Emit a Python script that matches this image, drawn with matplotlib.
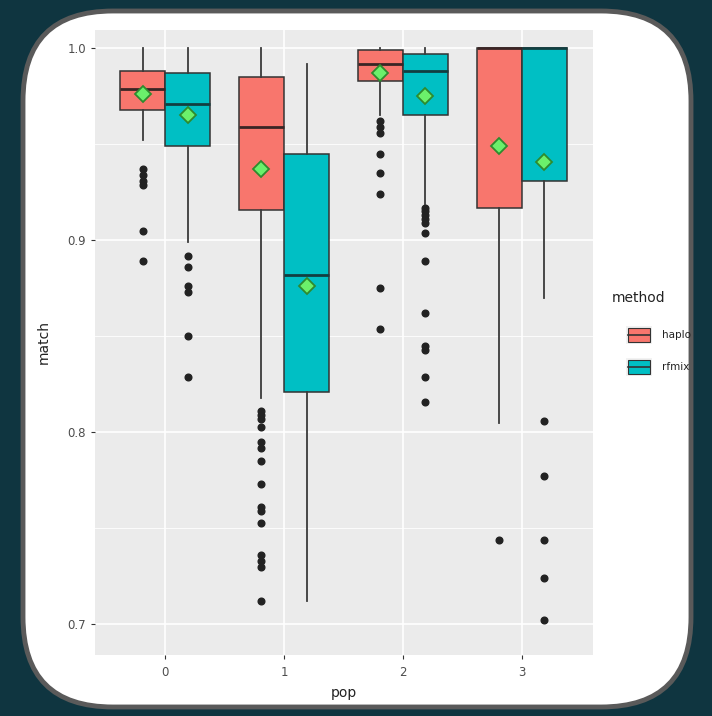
import matplotlib
matplotlib.use("Agg")
import matplotlib.pyplot as plt
from matplotlib.patches import FancyBboxPatch, Rectangle

# ---------------- data ----------------
pops = [0, 1, 2, 3]
methods = ["haplo", "rfmix"]
colors = {"haplo": "#F8766D", "rfmix": "#00BFC4"}

# per pop: [q1, median, q3, whislo, whishi, mean]
haplo_q1 = [0.968, 0.916, 0.983, 0.917]
haplo_med = [0.979, 0.959, 0.992, 1.000]
haplo_q3 = [0.988, 0.985, 0.999, 1.000]
haplo_lo = [0.952, 0.818, 0.965, 0.805]
haplo_hi = [1.000, 1.000, 1.000, 1.000]
haplo_mean = [0.976, 0.937, 0.987, 0.949]
haplo_out = [
    [0.937, 0.934, 0.931, 0.929, 0.905, 0.889],
    [0.811, 0.809, 0.807, 0.803, 0.795, 0.792, 0.785, 0.773, 0.761, 0.759,
     0.753, 0.736, 0.733, 0.730, 0.712],
    [0.962, 0.959, 0.956, 0.945, 0.935, 0.924, 0.875, 0.854],
    [0.744],
]

rfmix_q1 = [0.949, 0.821, 0.965, 0.931]
rfmix_med = [0.971, 0.882, 0.988, 1.000]
rfmix_q3 = [0.987, 0.945, 0.997, 1.000]
rfmix_lo = [0.899, 0.712, 0.919, 0.870]
rfmix_hi = [1.000, 0.992, 1.000, 1.000]
rfmix_mean = [0.965, 0.876, 0.975, 0.941]
rfmix_out = [
    [0.892, 0.886, 0.876, 0.873, 0.850, 0.829],
    [],
    [0.917, 0.915, 0.913, 0.911, 0.909, 0.904, 0.889, 0.862, 0.845, 0.843,
     0.829, 0.816],
    [0.806, 0.777, 0.744, 0.724, 0.702],
]

ytick_vals = [0.7, 0.8, 0.9, 1.0]
ytick_labels = ["0.7", "0.8", "0.9", "1.0"]
xtick_labels = ["0", "1", "2", "3"]

series = {
    "haplo": (haplo_q1, haplo_med, haplo_q3, haplo_lo, haplo_hi, haplo_mean, haplo_out),
    "rfmix": (rfmix_q1, rfmix_med, rfmix_q3, rfmix_lo, rfmix_hi, rfmix_mean, rfmix_out),
}

# ---------------- figure ----------------
W, H = 712, 716
fig = plt.figure(figsize=(W / 100, H / 100), dpi=100)
fig.patch.set_facecolor("#0F3540")

# background card
bg = fig.add_axes([0, 0, 1, 1], zorder=0)
bg.set_xlim(0, W)
bg.set_ylim(H, 0)
bg.axis("off")
card = FancyBboxPatch((23, 11), 668, 696,
                      boxstyle="round,pad=0,rounding_size=90",
                      facecolor="white", edgecolor="#5A5A5A", linewidth=3.5)
bg.add_patch(card)

# main panel
left, right, top, bottom = 95, 593, 30, 655
ax = fig.add_axes([left / W, 1 - bottom / H, (right - left) / W, (bottom - top) / H], zorder=1)
ax.set_facecolor("#EBEBEB")
for s in ax.spines.values():
    s.set_visible(False)

ax.set_xlim(-0.59, 3.6)
ax.set_ylim(0.684, 1.0095)

# grid
for y in [0.75, 0.85, 0.95]:
    ax.axhline(y, color="white", linewidth=0.6, zorder=0)
for y in ytick_vals:
    ax.axhline(y, color="white", linewidth=1.2, zorder=0)
for x in pops:
    ax.axvline(x, color="white", linewidth=1.2, zorder=0)

bw = 0.38
offs = {"haplo": -0.19, "rfmix": 0.19}
for m in methods:
    q1, med, q3, lo, hi, mean, out = series[m]
    stats = []
    for i in range(len(pops)):
        stats.append(dict(q1=q1[i], med=med[i], q3=q3[i], whislo=lo[i], whishi=hi[i],
                          mean=mean[i], fliers=out[i]))
    pos = [p + offs[m] for p in pops]
    ax.bxp(stats, positions=pos, widths=bw, patch_artist=True, showcaps=False,
           showmeans=True, manage_ticks=False,
           boxprops=dict(facecolor=colors[m], edgecolor="#333333", linewidth=1.1),
           medianprops=dict(color="#3A2525" if m == "haplo" else "#123E40", linewidth=2.0),
           whiskerprops=dict(color="#3A3A3A", linewidth=1.3),
           flierprops=dict(marker="o", markersize=4.8, markerfacecolor="#222222",
                           markeredgecolor="#222222"),
           meanprops=dict(marker="D", markersize=8, markerfacecolor="#6BF06B",
                          markeredgecolor="#2E8B2E", markeredgewidth=1.3),
           zorder=2)

ax.set_yticks(ytick_vals)
ax.set_yticklabels(ytick_labels)
ax.set_xticks(pops)
ax.set_xticklabels(xtick_labels)
ax.tick_params(axis="both", colors="#333333", labelcolor="#4D4D4D", labelsize=8.5,
               length=3, width=0.8)
ax.tick_params(axis="x", pad=5)
ax.set_xlabel("pop", fontsize=10, color="#222222", labelpad=5)
ax.set_ylabel("match", fontsize=10, color="#222222", labelpad=12)

# legend (drawn in pixel coords)
bg2 = fig.add_axes([0, 0, 1, 1], zorder=3)
bg2.set_xlim(0, W)
bg2.set_ylim(H, 0)
bg2.axis("off")
bg2.text(612, 298, "method", fontsize=10, color="#222222", va="center", ha="left")
for j, m in enumerate(methods):
    y0 = 326 + j * 32
    bg2.add_patch(Rectangle((626, y0), 26, 18, facecolor="#F2F2F2", edgecolor="none"))
    bg2.add_patch(Rectangle((628, y0 + 2), 22, 14, facecolor=colors[m],
                            edgecolor="#333333", linewidth=0.8))
    bg2.plot([628, 650], [y0 + 9, y0 + 9], color="#333333", linewidth=1.2)
    bg2.text(662, y0 + 9, m, fontsize=7.5, color="#222222", va="center", ha="left")

fig.savefig("out.png", dpi=100, facecolor=fig.get_facecolor())
